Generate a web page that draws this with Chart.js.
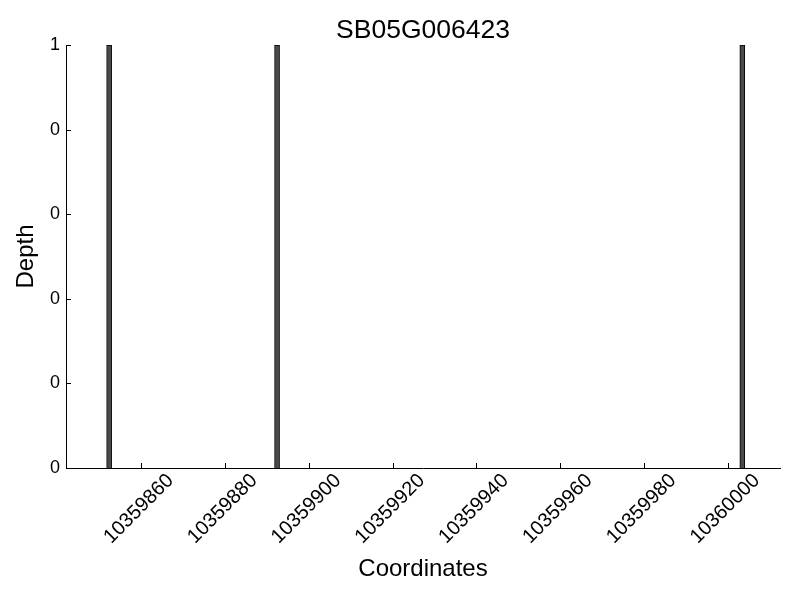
<!DOCTYPE html>
<html>
<head>
<meta charset="utf-8">
<script src="https://cdn.jsdelivr.net/npm/chart.js@4/dist/chart.umd.min.js"></script>
<style>
  html, body { margin: 0; padding: 0; background: #fff; }
  #wrap { width: 800px; height: 600px; }
</style>
</head>
<body>
<div id="wrap"><canvas id="depthChart" width="800" height="600"></canvas></div>
<script>
// values
var coords = [10359852.3, 10359892.4, 10360003.5];
var depth = [1, 1, 1];
var xTicks = [10359860, 10359880, 10359900, 10359920, 10359940, 10359960, 10359980, 10360000];
var yTicks = [0, 0.2, 0.4, 0.6, 0.8, 1];
var yTickLabels = ['0', '0', '0', '0', '0', '1'];

var fontFamily = '"Liberation Sans", Arial, sans-serif';
var xMin = 10359842, xMax = 10360012.5;

var points = coords.map(function (c, i) { return { x: c, y: depth[i] }; });

// matplotlib style ticks pointing into the plot
var inwardTicks = {
  id: 'inwardTicks',
  afterDraw: function (chart) {
    var c = chart.ctx, xs = chart.scales.x, ys = chart.scales.y;
    var area = chart.chartArea;
    c.save();
    c.strokeStyle = '#000';
    c.lineWidth = 1;
    c.beginPath();
    xTicks.forEach(function (v) {
      var px = Math.round(xs.getPixelForValue(v)) + 0.5;
      c.moveTo(px, area.bottom);
      c.lineTo(px, area.bottom - 5);
    });
    yTicks.forEach(function (v) {
      var py = Math.round(ys.getPixelForValue(v)) + 0.5;
      c.moveTo(area.left, py);
      c.lineTo(area.left + 5, py);
    });
    c.stroke();
    c.restore();
  }
};

var ctx = document.getElementById('depthChart');
new Chart(ctx, {
  type: 'bar',
  data: {
    datasets: [{
      label: 'Depth',
      data: points,
      backgroundColor: '#4a4a4a',
      borderColor: '#000000',
      borderWidth: 1,
      barThickness: 5
    }]
  },
  plugins: [inwardTicks],
  options: {
    responsive: false,
    animation: false,
    layout: { padding: { left: 0, right: 20, top: 0, bottom: 0 } },
    plugins: {
      legend: { display: false },
      tooltip: { enabled: false }
    },
    scales: {
      // top axis only carries the title, so it is centred over the plot area
      top: {
        type: 'linear',
        position: 'top',
        min: xMin,
        max: xMax,
        offset: false,
        grid: { display: false, drawTicks: false },
        border: { display: false },
        ticks: { display: false },
        afterFit: function (scale) { scale.height = 45; },
        title: {
          display: true,
          text: 'SB05G006423',
          color: '#000',
          font: { family: fontFamily, size: 26.5, weight: 'normal', lineHeight: 1 },
          padding: { top: 17, bottom: 0 }
        }
      },
      x: {
        type: 'linear',
        offset: false,
        min: xMin,
        max: xMax,
        grid: { display: false, drawTicks: false, offset: false },
        border: { display: true, color: '#000', width: 1 },
        ticks: {
          autoSkip: false,
          minRotation: 45,
          maxRotation: 45,
          labelOffset: 29,
          padding: 1,
          color: '#000',
          font: { family: fontFamily, size: 20 },
          callback: function (v) { return String(v); }
        },
        afterBuildTicks: function (scale) {
          scale.ticks = xTicks.map(function (v) { return { value: v }; });
        },
        afterFit: function (scale) { scale.height = 132; },
        title: {
          display: true,
          text: 'Coordinates',
          color: '#000',
          font: { family: fontFamily, size: 24, lineHeight: 1.2 },
          padding: { top: 0, bottom: 16 }
        }
      },
      y: {
        min: 0,
        max: 1,
        grid: { display: false, drawTicks: false },
        border: { display: true, color: '#000', width: 1 },
        ticks: {
          padding: 6,
          color: '#000',
          font: { family: fontFamily, size: 18 },
          callback: function (v, i) { return yTickLabels[i]; }
        },
        afterBuildTicks: function (scale) {
          scale.ticks = yTicks.map(function (v) { return { value: v }; });
        },
        afterFit: function (scale) { scale.width = 66; },
        title: {
          display: true,
          text: 'Depth',
          color: '#000',
          font: { family: fontFamily, size: 24, lineHeight: 1.2 },
          padding: { top: 12, bottom: 0 }
        }
      }
    }
  }
});
</script>
</body>
</html>
